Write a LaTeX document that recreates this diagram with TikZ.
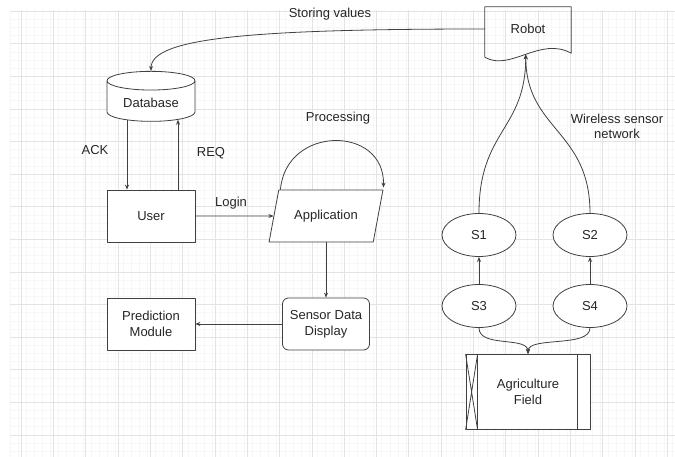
\documentclass[tikz,border=0pt]{standalone}
\usepackage{fontspec}
\setmainfont{Liberation Sans}
\usetikzlibrary{shapes.geometric,arrows.meta}
\begin{document}
\begin{tikzpicture}[x=1pt, y=-1pt, line join=round,
  every node/.style={font=\fontsize{13}{16}\selectfont, text=black!85},
  box/.style={draw=black!75, line width=0.8, fill=white, minimum width=88, minimum height=52, align=center},
  sensor/.style={draw=black!75, line width=0.8, fill=white, ellipse, minimum width=74, minimum height=43},
  edge/.style={draw=black!75, line width=0.8},
  link/.style={edge, -{Stealth[length=5pt,width=4pt]}}]
\useasboundingbox (0,0) rectangle (675,457);
% siatka
\begin{scope}
\clip (10,10) rectangle (675,457);
\foreach \i in {0,...,83}
  \draw[black!3] (10+\i*8.08,10) -- ++(0,447);
\foreach \i in {0,...,56}
  \draw[black!3] (10,11+\i*8.15) -- ++(665,0);
\foreach \i in {0,...,20}
  \draw[black!11] (21+\i*32.3,10) -- ++(0,447);
\foreach \i in {0,...,13}
  \draw[black!11] (10,11+\i*32.6) -- ++(665,0);
\end{scope}
% lewa strona
\node[box, cylinder, shape border rotate=90, aspect=0.3, minimum width=88, minimum height=50] (db) at (151,103) {Database};
\node[box] (user) at (151,216) {User};
\node[box, trapezium, trapezium left angle=69, trapezium right angle=111,
  trapezium stretches=true, minimum width=114] (app) at (326,216) {Application};
\node[box, rounded corners=6, minimum width=87] (sdd) at (326,324) {Sensor Data\\Display};
\node[box] (pm) at (151,324) {Prediction\\Module};
% robot
\node[minimum width=86, minimum height=44] (robot) at (528,29) {Robot};
\draw[edge] ([yshift=-6]robot.south west) -- (robot.north west) -- (robot.north east)
  -- ([yshift=-2]robot.south east) .. controls (540,36) and (510,72) .. ([yshift=-6]robot.south west)
  coordinate[pos=0.5] (rb);
% czujniki
\node[sensor] (s1) at (479,235) {S1};
\node[sensor] (s2) at (590,235) {S2};
\node[sensor] (s3) at (479,306) {S3};
\node[sensor] (s4) at (590,306) {S4};
\node[box, minimum width=124, minimum height=75] (field) at (528,392) {Agriculture\\Field};
\draw[edge] ([xshift=12]field.north west) -- ([xshift=12]field.south west)
  ([xshift=-13]field.north east) -- ([xshift=-13]field.south east);
\draw[edge] (field.north west) -- ([xshift=12]field.south west)
  ([xshift=12]field.north west) -- (field.south west);
% etykiety
\node (store) at (330,14) {Storing values};
\node (ack) at (95,150) {ACK};
\node (req) at (211,153) {REQ};
\node (login) at (231,203) {Login};
\node (proc) at (338,118) {Processing};
\node[align=center, font=\fontsize{13}{15}\selectfont] (wsn) at (617,126) {Wireless sensor\\network};
% polaczenia
\draw[link] (robot.west) .. controls (250,29) and (151,38) .. (db.north);
\draw[link] ([xshift=-24,yshift=2]db.south) -- ([xshift=-24]user.north);
\draw[link] ([xshift=27]user.north) -- ([xshift=27,yshift=2]db.south);
\draw[link] (user.east) -- (app.west);
\draw[link] ([xshift=2]app.top left corner) .. controls (286,125) and (385,125) .. ([yshift=2]app.top right corner);
\draw[link] (sdd.north |- app.south) -- (sdd.north);
\draw[link] (sdd.west) -- (pm.east);
\foreach \a/\b in {s3/s1, s4/s2}
  \draw[link] (\a.north) -- (\b.south);
\draw[link] (s1.north) .. controls (479,130) and (rb|-0,130) .. (rb);
\draw[link] (s2.north) .. controls (590,130) and (rb|-0,130) .. (rb);
\draw[link] (s3.south) .. controls (479,348) and (528,336) .. (field.north);
\draw[link] (s4.south) .. controls (590,348) and (528,336) .. (field.north);
\end{tikzpicture}
\end{document}
